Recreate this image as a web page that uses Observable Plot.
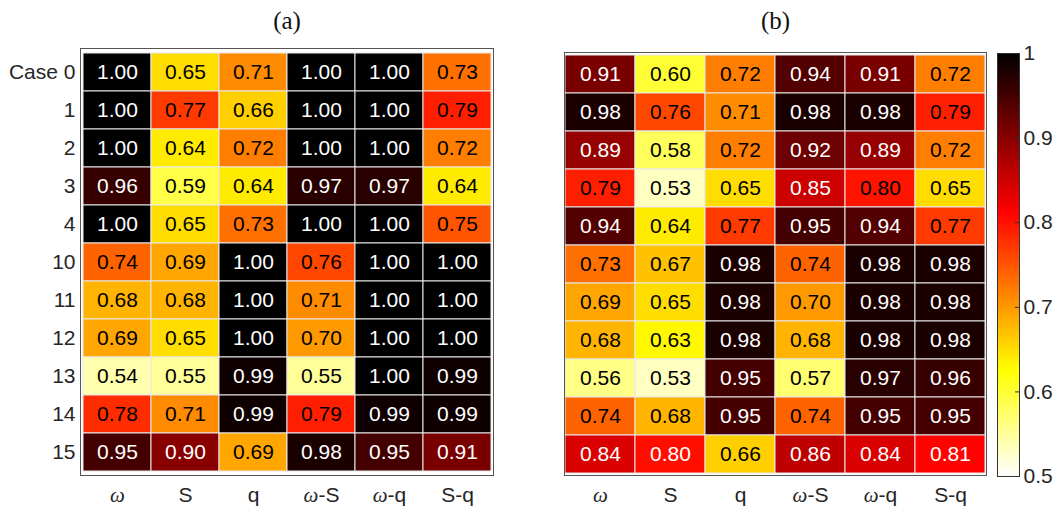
<!DOCTYPE html>
<html>
<head>
<meta charset="utf-8">
<script src="https://cdn.jsdelivr.net/npm/d3@7"></script>
<script src="https://cdn.jsdelivr.net/npm/@observablehq/plot@0.6"></script>
<style>
  html, body { margin: 0; padding: 0; background: white; }
  #wrap { position: relative; width: 1058px; height: 508px; background: white; overflow: hidden; }
  #wrap svg { position: absolute; left: 0; top: 0; background: transparent; }
</style>
</head>
<body>
<div id="wrap"></div>
<script>
const cols = ["ω", "S", "q", "ω-S", "ω-q", "S-q"];
const cases = ["Case 0", "1", "2", "3", "4", "10", "11", "12", "13", "14", "15"];

const valuesA = [
  [1.00, 0.65, 0.71, 1.00, 1.00, 0.73],
  [1.00, 0.77, 0.66, 1.00, 1.00, 0.79],
  [1.00, 0.64, 0.72, 1.00, 1.00, 0.72],
  [0.96, 0.59, 0.64, 0.97, 0.97, 0.64],
  [1.00, 0.65, 0.73, 1.00, 1.00, 0.75],
  [0.74, 0.69, 1.00, 0.76, 1.00, 1.00],
  [0.68, 0.68, 1.00, 0.71, 1.00, 1.00],
  [0.69, 0.65, 1.00, 0.70, 1.00, 1.00],
  [0.54, 0.55, 0.99, 0.55, 1.00, 0.99],
  [0.78, 0.71, 0.99, 0.79, 0.99, 0.99],
  [0.95, 0.90, 0.69, 0.98, 0.95, 0.91]
];

const valuesB = [
  [0.91, 0.60, 0.72, 0.94, 0.91, 0.72],
  [0.98, 0.76, 0.71, 0.98, 0.98, 0.79],
  [0.89, 0.58, 0.72, 0.92, 0.89, 0.72],
  [0.79, 0.53, 0.65, 0.85, 0.798, 0.65],
  [0.94, 0.64, 0.77, 0.95, 0.94, 0.77],
  [0.73, 0.67, 0.98, 0.74, 0.98, 0.98],
  [0.69, 0.65, 0.98, 0.70, 0.98, 0.98],
  [0.68, 0.63, 0.98, 0.68, 0.98, 0.98],
  [0.56, 0.53, 0.95, 0.57, 0.97, 0.96],
  [0.74, 0.68, 0.95, 0.74, 0.95, 0.95],
  [0.84, 0.802, 0.66, 0.86, 0.84, 0.81]
];

const panelTitles = ["(a)", "(b)"];
const colorTicks = [0.5, 0.6, 0.7, 0.8, 0.9, 1];

// reversed MATLAB "hot" colormap: t=0 -> white, t=1 -> black
function hotR(t) {
  const u = 1 - Math.max(0, Math.min(1, t));
  const cl = x => Math.max(0, Math.min(1, x));
  const r = cl(u / 0.375), g = cl((u - 0.375) / 0.375), b = cl((u - 0.75) / 0.25);
  return `rgb(${Math.round(r * 255)},${Math.round(g * 255)},${Math.round(b * 255)})`;
}
const colorScale = { type: "linear", domain: [0.5, 1], interpolate: hotR };

const FONT = "'Liberation Sans', Arial, sans-serif";
const FS = 21;
const W = 1058, H = 508;
const wrap = document.getElementById("wrap");

function italicizeOmega(svg) {
  svg.querySelectorAll("text").forEach(t => {
    if (t.children.length === 0 && t.textContent.includes("ω")) {
      const s = t.textContent;
      t.textContent = "";
      const ns = "http://www.w3.org/2000/svg";
      for (const part of s.split(/(ω)/)) {
        if (!part) continue;
        const ts = document.createElementNS(ns, "tspan");
        ts.textContent = part;
        if (part === "ω") {
          ts.setAttribute("font-style", "italic");
          ts.setAttribute("font-family", "'Liberation Serif', serif");
          ts.setAttribute("font-size", "21");
        }
        t.appendChild(ts);
      }
    }
  });
}

function heat(values, title, m) {
  const data = values.flatMap((row, i) => row.map((v, j) => ({ c: cases[i], k: cols[j], v })));
  const svg = Plot.plot({
    width: W, height: H,
    marginLeft: m.left, marginRight: m.right, marginTop: m.top, marginBottom: m.bottom,
    style: { fontFamily: FONT, fontSize: FS + "px", color: "#262626", background: "transparent" },
    x: { domain: cols, padding: 0, label: null, tickSize: 0, tickPadding: 12, axis: "bottom" },
    y: { domain: cases, padding: 0, label: null, tickSize: 0, tickPadding: 5, axis: m.yaxis ? "left" : null },
    color: colorScale,
    marks: [
      Plot.cell(data, { x: "k", y: "c", fill: "v", stroke: "#e8e8e8", strokeWidth: 1, inset: 0 }),
      Plot.text(data, {
        x: "k", y: "c", text: d => d.v.toFixed(2),
        fill: d => (d.v > 0.8 ? "white" : "black"),
        fontSize: FS, fontFamily: FONT
      }),
      Plot.frame({ stroke: "#555", strokeWidth: 1 }),
      Plot.text([title], {
        text: d => d, frameAnchor: "top", lineAnchor: "middle", dy: 20 - m.top,
        fontFamily: "'Liberation Serif', serif", fontSize: 25, fill: "#111"
      })
    ]
  });
  italicizeOmega(svg);
  return svg;
}

wrap.appendChild(heat(valuesA, panelTitles[0], { left: 80, right: W - 493, top: 48, bottom: H - 475, yaxis: true }));
wrap.appendChild(heat(valuesB, panelTitles[1], { left: 564, right: W - 986, top: 52, bottom: H - 475, yaxis: false }));

// colorbar
const step = 0.0025;
const bands = d3.range(0.5, 1, step);
const cb = Plot.plot({
  width: W, height: H,
  marginLeft: 997, marginRight: W - 1019, marginTop: 53, marginBottom: H - 476,
  style: { fontFamily: FONT, fontSize: FS + "px", color: "#262626", background: "transparent" },
  x: { domain: [0, 1], axis: null },
  y: { domain: [0.5, 1], axis: "right", ticks: colorTicks, tickSize: 0, tickPadding: 4, label: null, tickFormat: d => String(d) },
  color: colorScale,
  marks: [
    Plot.rect(bands, { x1: 0, x2: 1, y1: d => d, y2: d => Math.min(1, d + step * 1.5), fill: d => d + step / 2 }),
    Plot.ruleY(colorTicks.slice(1, -1), { x1: 0.82, x2: 1, stroke: "#333", strokeWidth: 1 }),
    Plot.frame({ stroke: "#333", strokeWidth: 1 })
  ]
});
wrap.appendChild(cb);
</script>
</body>
</html>
